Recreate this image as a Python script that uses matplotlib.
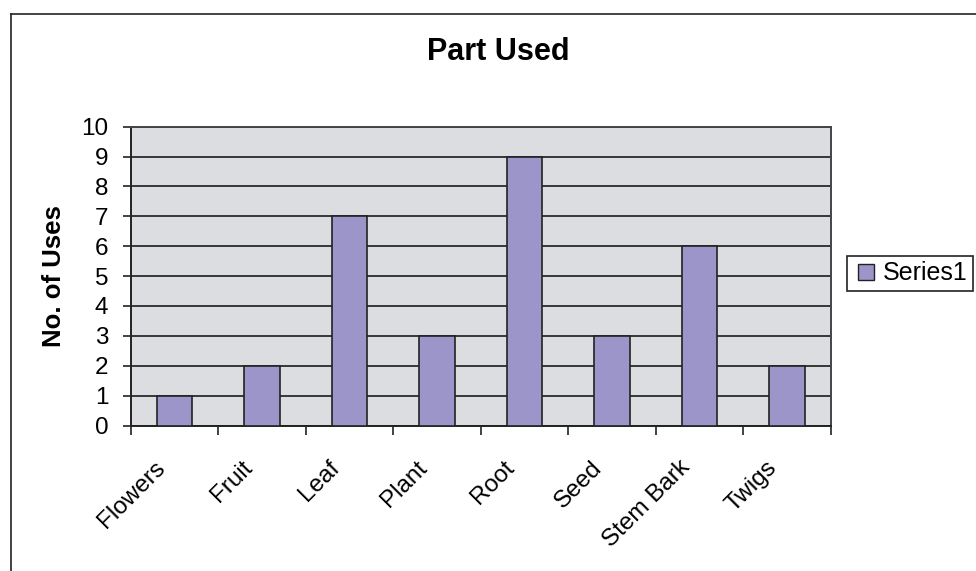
import matplotlib
matplotlib.use("Agg")
import matplotlib.pyplot as plt
from matplotlib.lines import Line2D
import numpy as np

parts = ["Flowers", "Fruit", "Leaf", "Plant", "Root", "Seed", "Stem Bark", "Twigs"]
uses = [1, 2, 7, 3, 9, 3, 6, 2]
yticks = list(range(0, 11))

bar_color = '#9b95c9'
edge = '#222222'

plt.rcParams['font.family'] = ['Liberation Sans', 'DejaVu Sans']

W, H = 976, 571
fig = plt.figure(figsize=(W / 100, H / 100), dpi=100)
fig.patch.set_facecolor('white')

# chart frame (left and top edges visible)
fig.add_artist(Line2D([11 / W, 11 / W], [0, 1 - 14 / H], color=edge, lw=1.2, transform=fig.transFigure))
fig.add_artist(Line2D([11 / W, 1], [1 - 14 / H, 1 - 14 / H], color=edge, lw=1.2, transform=fig.transFigure))

left, right, top, bottom = 130.7, 830.7, 126.7, 425.5
ax = fig.add_axes([left / W, 1 - bottom / H, (right - left) / W, (bottom - top) / H])
ax.set_facecolor('#dcdde0')

x = np.arange(len(parts))
ax.bar(x, uses, width=0.41, color=bar_color, edgecolor=edge, linewidth=1.2, zorder=3)

ax.set_xlim(-0.5, len(parts) - 0.5)
ax.set_ylim(0, 10)
ax.set_yticks(yticks)
ax.yaxis.grid(True, color='#2a2a2a', linewidth=1.3, zorder=1)
ax.set_axisbelow(True)

# category boundary ticks; names sit on invisible minor ticks, nudged left
ax.set_xticks(np.arange(len(parts) + 1) - 0.5)
ax.set_xticklabels([])
ax.set_xticks(x - 0.15, minor=True)
ax.set_xticklabels(parts, minor=True, rotation=45, ha='right', va='center',
                   rotation_mode='anchor', fontsize=17.5)
ax.tick_params(axis='x', which='minor', length=0, pad=28)
ax.tick_params(axis='x', which='major', length=6.5, width=1.2, color=edge, direction='out')
ax.tick_params(axis='y', length=6, width=1.2, color=edge, labelsize=17.5, pad=10)

for side in ['left', 'bottom']:
    ax.spines[side].set_color(edge)
    ax.spines[side].set_linewidth(1.4)
for side in ['right', 'top']:
    ax.spines[side].set_color('#444444')
    ax.spines[side].set_linewidth(1.4)

ax.set_ylabel('No. of Uses', fontsize=18.5, fontweight='bold')
ax.yaxis.set_label_coords(-0.092, 0.5)
fig.text(498 / W, 1 - 52 / H, 'Part Used', fontsize=22, fontweight='bold', ha='center', va='center')

handle = Line2D([], [], marker='s', markersize=11, markerfacecolor=bar_color,
                markeredgecolor=edge, markeredgewidth=1.0, linestyle='none')
leg = fig.legend(handles=[handle], labels=['Series1'], loc='upper left',
                 bbox_to_anchor=(847 / W, 1 - 256 / H), fontsize=18,
                 fancybox=False, edgecolor=edge, framealpha=1,
                 handlelength=1.08, handletextpad=0.12,
                 borderpad=0.22, borderaxespad=0)
leg.get_frame().set_linewidth(1.2)

fig.savefig('out.png', dpi=100)
